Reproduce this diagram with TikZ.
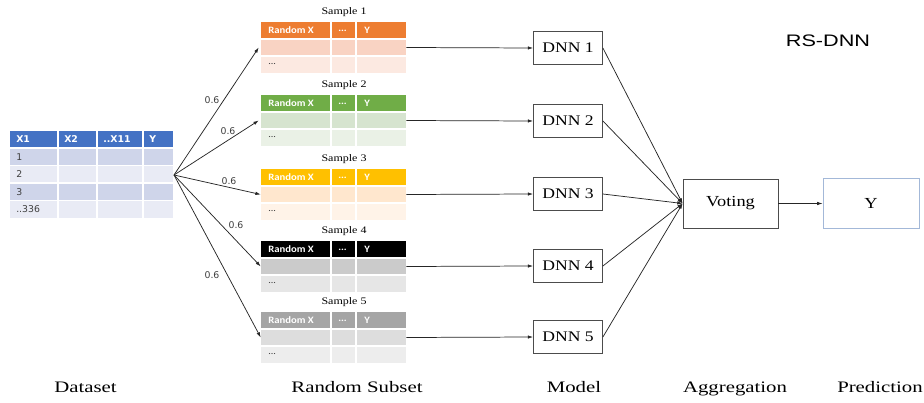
\documentclass[tikz,border=0pt]{standalone}
\usepackage{fontspec}
\setmainfont{Liberation Serif}
\newfontfamily\serifw[FakeStretch=1.2]{Liberation Serif}
\newfontfamily\serifl[FakeStretch=1.3]{Liberation Serif}
\newfontfamily\arialw[FakeStretch=1.3]{Liberation Sans}
\newfontfamily\dejav{DejaVu Sans}
\newfontfamily\carl[FakeStretch=1.1]{Carlito}
\usetikzlibrary{arrows.meta}
\definecolor{dsh}{HTML}{4472C4}
\definecolor{dsa}{HTML}{CFD5EA}
\definecolor{dsb}{HTML}{E9EBF5}
\definecolor{sah}{HTML}{ED7D31}\definecolor{saa}{HTML}{F9D3C3}\definecolor{sab}{HTML}{FCE9E1}
\definecolor{sbh}{HTML}{70AD47}\definecolor{sba}{HTML}{D6E4CF}\definecolor{sbb}{HTML}{EAF1E6}
\definecolor{sch}{HTML}{FFC000}\definecolor{sca}{HTML}{FFE7CE}\definecolor{scb}{HTML}{FFF3E8}
\definecolor{sdh}{HTML}{000000}\definecolor{sda}{HTML}{CBCBCB}\definecolor{sdb}{HTML}{E6E6E6}
\definecolor{seh}{HTML}{A5A5A5}\definecolor{sea}{HTML}{DDDDDD}\definecolor{seb}{HTML}{EDEDED}
\definecolor{ybd}{HTML}{A3B8D8}
\definecolor{txtg}{HTML}{404040}
\tikzset{
  conn/.style={draw=black!85, line width=0.55pt},
  arr/.style={conn, -{Latex[length=4pt,width=2.6pt]}},
  dnnbox/.style={draw=black!70, line width=0.6pt, minimum width=51.75pt, minimum height=24.75pt, inner sep=0pt, font=\serifw\fontsize{11}{13}\selectfont},
  smplbl/.style={inner sep=0pt, font=\serifw\fontsize{7.5}{9}\selectfont},
  hdr/.style={inner sep=0pt, anchor=west, text=white, font=\carl\bfseries\fontsize{7.3}{8}\selectfont},
  celltxt/.style={inner sep=0pt, anchor=west, text=txtg, font=\carl\fontsize{7}{8}\selectfont},
  dshdr/.style={inner sep=0pt, anchor=west, text=white, font=\dejav\bfseries\fontsize{7}{8}\selectfont},
  dstxt/.style={inner sep=0pt, anchor=west, text=txtg, font=\dejav\fontsize{7}{8}\selectfont},
  plbl/.style={inner sep=0pt, text=txtg, font=\dejav\fontsize{7}{8}\selectfont},
  botlbl/.style={inner sep=0pt, anchor=base, font=\serifl\fontsize{12}{14}\selectfont},
  rowanchor/.style={inner sep=0pt, minimum width=108.75pt, minimum height=12.75pt},
}
% #1 name, #2 top, #3 header colour, #4 band 1, #5 band 2, #6 label
\newcommand\smptab[6]{%
  \node[smplbl] (#1lbl) at (344,#2-10) {#6};
  \fill[#3] (261,#2) rectangle (406,#2+17);
  \fill[#4] (261,#2+17) rectangle (406,#2+34);
  \fill[#5] (261,#2+34) rectangle (406,#2+51);
  \draw[white, line width=0.9pt] (261,#2+17) -- (406,#2+17) (261,#2+34) -- (406,#2+34)
     (331,#2) -- (331,#2+51) (356,#2) -- (356,#2+51);
  \node[hdr] (#1ha) at (268,#2+8.5) {Random X};
  \node[hdr] (#1hb) at (338,#2+8.5) {...};
  \node[hdr] (#1hc) at (364,#2+8.5) {Y};
  \node[celltxt] (#1dots) at (268,#2+42.5) {...};
  \node[rowanchor] (#1) at (333.5,#2+25.5) {};
}
\begin{document}
\begin{tikzpicture}[x=0.75pt, y=-0.75pt]
\path[use as bounding box, fill=white] (0,0) rectangle (924,403);

% Dataset table
\fill[dsh] (10,131) rectangle (173,148);
\fill[dsa] (10,148) rectangle (173,165.5);
\fill[dsb] (10,165.5) rectangle (173,183);
\fill[dsa] (10,183) rectangle (173,200.5);
\fill[dsb] (10,200.5) rectangle (173,218);
\draw[white, line width=0.9pt] (10,148) -- (173,148) (10,165.5) -- (173,165.5) (10,183) -- (173,183) (10,200.5) -- (173,200.5)
   (58,131) -- (58,218) (97,131) -- (97,218) (143,131) -- (143,218);
\node[dshdr] (hx1) at (16,139.5) {X1};
\node[dshdr] (hx2) at (64,139.5) {X2};
\node[dshdr] (hx11) at (103,139.5) {..X11};
\node[dshdr] (hy) at (149,139.5) {Y};
\node[dstxt] (r1) at (16,156.8) {1};
\node[dstxt] (r2) at (16,174.3) {2};
\node[dstxt] (r3) at (16,191.8) {3};
\node[dstxt] (r4) at (16,209.3) {..336};
\coordinate (br) at (174,175);

% Samples
\smptab{s1}{22}{sah}{saa}{sab}{Sample 1}
\smptab{s2}{95}{sbh}{sba}{sbb}{Sample 2}
\smptab{s3}{169}{sch}{sca}{scb}{Sample 3}
\smptab{s4}{241}{sdh}{sda}{sdb}{Sample 4}
\smptab{s5}{312}{seh}{sea}{seb}{Sample 5}

% DNN boxes
\node[dnnbox] (d1) at (568,48) {DNN 1};
\node[dnnbox] (d2) at (568,121) {DNN 2};
\node[dnnbox] (d3) at (568,194) {DNN 3};
\node[dnnbox] (d4) at (568,266) {DNN 4};
\node[dnnbox] (d5) at (568,337) {DNN 5};

\node[draw=black!70, line width=0.6pt, minimum width=71.25pt, minimum height=36.75pt, inner sep=0pt,
      font=\serifw\fontsize{11.5}{13}\selectfont] (vote) at (730.5,203.5) {Voting};
\node[draw=ybd, line width=0.7pt, minimum width=72pt, minimum height=37.5pt, inner sep=0pt,
      font=\serifw\fontsize{11.5}{13}\selectfont] (yb) at (871,203.5) {Y};

\node[inner sep=0pt, font=\arialw\fontsize{12.5}{14}\selectfont] (title) at (828,41) {RS-DNN};

% connectors dataset -> samples
\draw[arr] (br) -- ([xshift=-1.5pt]s1.west);
\draw[arr] (br) -- ([xshift=-1.5pt]s2.west);
\draw[arr] (br) -- (s3.west);
\draw[arr] (br) -- (s4.west);
\draw[arr] (br) -- (s5.west);
\node[plbl] (p1) at (212,100) {0.6};
\node[plbl] (p2) at (228,131) {0.6};
\node[plbl] (p3) at (229,181) {0.6};
\node[plbl] (p4) at (236,225) {0.6};
\node[plbl] (p5) at (212,275) {0.6};

% samples -> DNN
\foreach \i in {1,...,5}{
  \draw[arr] (s\i.east) -- (d\i.west);
  \draw[arr] (d\i.east) -- (vote.west);
}
\draw[arr] (vote.east) -- (yb.west);

% bottom labels
\node[botlbl] (lb1) at (85.5,392) {Dataset};
\node[botlbl] (lb2) at (357,392) {Random Subset};
\node[botlbl] (lb3) at (574,392) {Model};
\node[botlbl] (lb4) at (735,392) {Aggregation};
\node[botlbl, anchor=base east] (lb5) at (923,392) {Prediction};
\end{tikzpicture}
\end{document}
